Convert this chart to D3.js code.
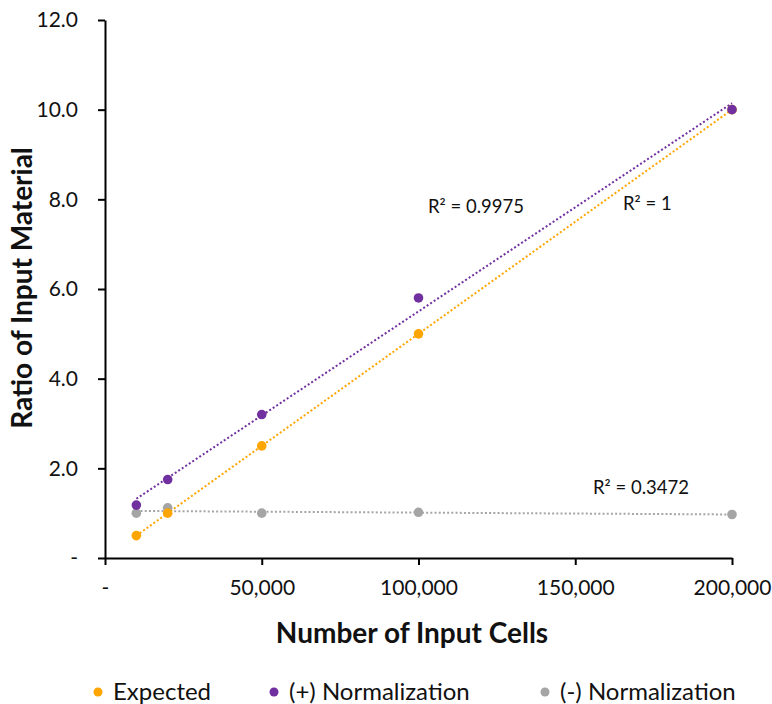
<!DOCTYPE html>
<html>
<head>
<meta charset="utf-8">
<script src="https://cdn.jsdelivr.net/npm/d3@7"></script>
<style>
  body { margin: 0; background: #fff; }
  svg text { font-family: Lato, "Open Sans", sans-serif; fill: #111; }
</style>
</head>
<body>
<div id="chart"></div>
<script>
// chart values
var cells = [10000, 20000, 50000, 100000, 200000];
var expected = [0.5, 1.0, 2.5, 5.0, 10.0];
var plusNorm = [1.18, 1.75, 3.2, 5.8, 10.0];
var minusNorm = [1.0, 1.12, 1.0, 1.02, 0.97];
var seriesNames = ['Expected', '(+) Normalization', '(-) Normalization'];
var seriesColors = ['#FFA500', '#7030A0', '#A5A5A5'];
var r2Labels = ['R² = 1', 'R² = 0.9975', 'R² = 0.3472'];
var xTicks = [0, 50000, 100000, 150000, 200000];
var yTicks = [0, 2, 4, 6, 8, 10, 12];

var width = 772, height = 704;
var margin = { top: 20, right: 40, bottom: 146, left: 105 };

var svg = d3.select('#chart').append('svg')
    .attr('width', width).attr('height', height);

var x = d3.scaleLinear().domain([0, 200000]).range([margin.left, 732]);
var y = d3.scaleLinear().domain([0, 12]).range([height - margin.bottom, margin.top]);

var fmtX = function (d) { return d === 0 ? '-' : d3.format(',')(d); };
var fmtY = function (d) { return d === 0 ? '-' : d3.format('.1f')(d); };

var xAxis = svg.append('g').attr('transform', 'translate(0,' + y(0) + ')')
    .call(d3.axisBottom(x).tickValues(xTicks).tickFormat(fmtX).tickSize(7).tickSizeOuter(0));
var yAxis = svg.append('g').attr('transform', 'translate(' + x(0) + ',0)')
    .call(d3.axisLeft(y).tickValues(yTicks).tickFormat(fmtY).tickSize(7).tickSizeOuter(0));

[xAxis, yAxis].forEach(function (a) {
    a.select('.domain').attr('stroke', '#000').attr('stroke-width', 2);
    a.selectAll('.tick line').attr('stroke', '#000').attr('stroke-width', 2);
    a.selectAll('.tick text').style('font-size', '21px').attr('fill', '#111');
});
xAxis.selectAll('.tick text').attr('dy', '0').attr('y', 37);
yAxis.selectAll('.tick text').attr('x', -27);

var allSeries = [expected, plusNorm, minusNorm];

function regress(xs, ys) {
    var mx = d3.mean(xs), my = d3.mean(ys);
    var sxy = d3.sum(xs, function (v, i) { return (v - mx) * (ys[i] - my); });
    var sxx = d3.sum(xs, function (v) { return (v - mx) * (v - mx); });
    var b = sxy / sxx;
    return { b: b, a: my - b * mx };
}

// trendlines
allSeries.forEach(function (vals, s) {
    var fit = regress(cells, vals);
    var ends = d3.extent(cells);
    svg.append('line')
        .attr('x1', x(ends[0])).attr('y1', y(fit.a + fit.b * ends[0]))
        .attr('x2', x(ends[1])).attr('y2', y(fit.a + fit.b * ends[1]))
        .attr('stroke', seriesColors[s])
        .attr('stroke-width', 2)
        .attr('stroke-dasharray', '2,2.2');
});

// points (gray first, purple on top)
[2, 0, 1].forEach(function (s) {
    svg.append('g').selectAll('circle').data(allSeries[s]).enter()
        .append('circle')
        .attr('cx', function (d, i) { return x(cells[i]); })
        .attr('cy', function (d) { return y(d); })
        .attr('r', 4.8)
        .attr('fill', seriesColors[s]);
});

// R² labels
var r2Pos = [[623, 210], [428, 213], [593, 494]];
r2Labels.forEach(function (t, i) {
    svg.append('text').attr('x', r2Pos[i][0]).attr('y', r2Pos[i][1])
        .style('font-size', '18.5px').text(t);
});

// axis titles
svg.append('text').attr('x', 412).attr('y', 643).attr('text-anchor', 'middle')
    .style('font-size', '28px').style('font-weight', 'bold').text('Number of Input Cells');
svg.append('text').attr('transform', 'translate(32,288) rotate(-90)').attr('text-anchor', 'middle')
    .style('font-size', '28px').style('font-weight', 'bold').text('Ratio of Input Material');

// legend
var legX = [98, 274, 545];
seriesNames.forEach(function (n, i) {
    var g = svg.append('g').attr('transform', 'translate(' + legX[i] + ',692)');
    g.append('circle').attr('r', 4.5).attr('fill', seriesColors[i]);
    g.append('text').attr('x', 15).attr('y', 8).style('font-size', '24px').text(n);
});
</script>
</body>
</html>
